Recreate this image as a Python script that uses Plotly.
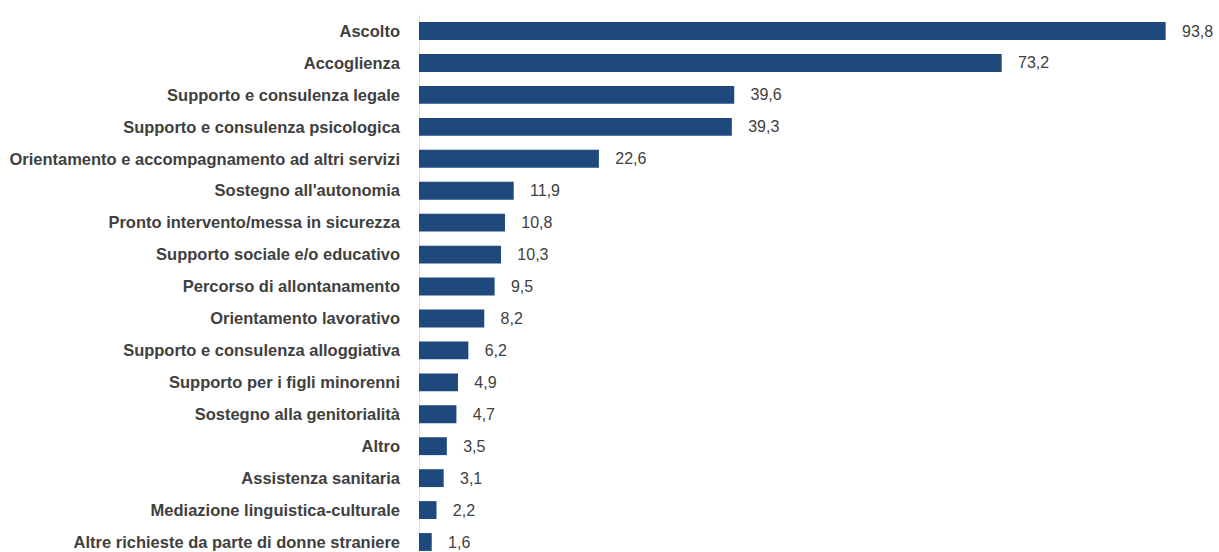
import plotly.graph_objects as go

categories = [
    "Ascolto",
    "Accoglienza",
    "Supporto e consulenza legale",
    "Supporto e consulenza psicologica",
    "Orientamento e accompagnamento ad altri servizi",
    "Sostegno all'autonomia",
    "Pronto intervento/messa in sicurezza",
    "Supporto sociale e/o educativo",
    "Percorso di allontanamento",
    "Orientamento lavorativo",
    "Supporto e consulenza alloggiativa",
    "Supporto per i figli minorenni",
    "Sostegno alla genitorialità",
    "Altro",
    "Assistenza sanitaria",
    "Mediazione linguistica-culturale",
    "Altre richieste da parte di donne straniere",
]
values = [93.8, 73.2, 39.6, 39.3, 22.6, 11.9, 10.8, 10.3, 9.5, 8.2, 6.2, 4.9, 4.7, 3.5, 3.1, 2.2, 1.6]

FONT = "Liberation Sans Narrow, Arial Narrow, Liberation Sans, Arial, sans-serif"
BAR = "#1F497D"
TXT = "#404040"

fig = go.Figure(go.Bar(
    x=values,
    y=categories,
    orientation="h",
    marker=dict(color=BAR, line=dict(width=0)),
    width=0.56,
    text=values,
    texttemplate="   %{x:.1f}",
    textposition="outside",
    textfont=dict(family=FONT, size=16, color=TXT),
    cliponaxis=False,
))

fig.update_layout(
    width=1219,
    height=552,
    margin=dict(l=419, r=4, t=0, b=0, autoexpand=False),
    plot_bgcolor="white",
    paper_bgcolor="white",
    separators=",.",
    showlegend=False,
    xaxis=dict(range=[0, 100], visible=False, showgrid=False, zeroline=False),
    yaxis=dict(
        type="category",
        categoryorder="array",
        categoryarray=categories,
        range=[16.313, -0.971],
        showgrid=False,
        zeroline=False,
        showline=False,
        ticks="",
        ticklabelstandoff=18,
        tickfont=dict(family=FONT, size=16.5, color=TXT, weight="bold"),
    ),
    shapes=[dict(type="line", xref="x", yref="y", x0=0, x1=0, y0=-0.5, y1=16.313,
                 line=dict(color="#D9D9D9", width=1.5), layer="below")],
)

fig.write_html(
    "out.html",
    config={"displayModeBar": False},
    post_script="document.body.style.margin='0';document.body.style.overflow='hidden';",
)
